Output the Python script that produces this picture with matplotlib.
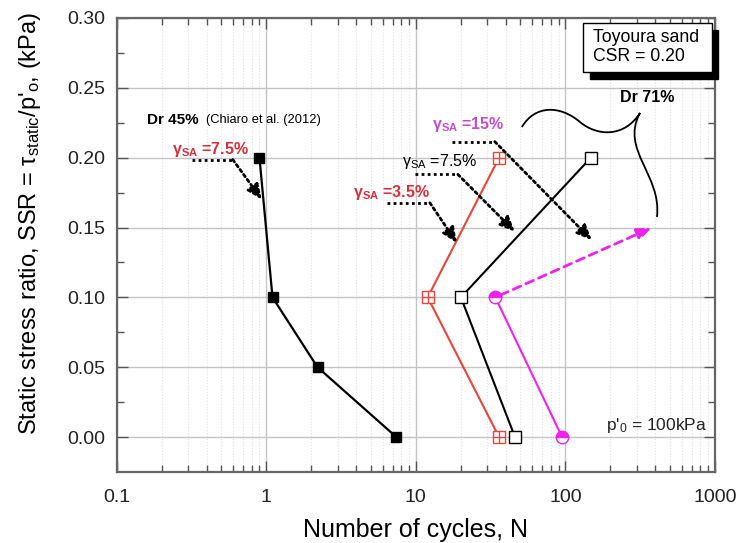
import matplotlib
matplotlib.use("Agg")
import matplotlib.pyplot as plt
from matplotlib.path import Path
from matplotlib.patches import PathPatch, Rectangle
from matplotlib.ticker import LogLocator, FixedLocator, NullFormatter, FixedFormatter

plt.rcParams['font.family'] = ['Liberation Sans', 'DejaVu Sans']
plt.rcParams['mathtext.fontset'] = 'custom'
plt.rcParams['mathtext.rm'] = 'Liberation Sans'
plt.rcParams['mathtext.it'] = 'Liberation Sans:italic'
plt.rcParams['mathtext.default'] = 'regular'

# ---- data ----
dr45_N = [0.9, 1.1, 2.2, 7.4]
dr45_ssr = [0.20, 0.10, 0.05, 0.00]

red35_N = [36, 12, 36]
red35_ssr = [0.20, 0.10, 0.00]

blk75_N = [148, 20, 46]
blk75_ssr = [0.20, 0.10, 0.00]

mag15_N = [34, 95]
mag15_ssr = [0.10, 0.00]

mag_arrow_end_N = 380
mag_arrow_end_ssr = 0.15

xticks = [0.1, 1, 10, 100, 1000]
xticklabels = ['0.1', '1', '10', '100', '1000']
yticks = [0.00, 0.05, 0.10, 0.15, 0.20, 0.25, 0.30]
yticklabels = ['0.00', '0.05', '0.10', '0.15', '0.20', '0.25', '0.30']

RED = '#e8453c'
MAG = '#ee22ee'
REDTXT = '#d6303a'
MAGTXT = '#c84ccc'

fig = plt.figure(figsize=(7.39, 5.43), dpi=100)
ax = fig.add_axes([0.158, 0.1308, 0.8095, 0.8361])
ax.set_xscale('log')
ax.set_xlim(0.1, 1000)
ax.set_ylim(-0.025, 0.30)

# grid
ax.set_axisbelow(True)
ax.grid(True, which='major', color='#c4c4c4', lw=1.0)
ax.grid(True, which='minor', axis='x', color='#e2e2e2', lw=0.8, ls=':')

ax.xaxis.set_major_locator(FixedLocator(xticks))
ax.xaxis.set_major_formatter(FixedFormatter(xticklabels))
ax.xaxis.set_minor_locator(LogLocator(base=10, subs=range(2, 10)))
ax.xaxis.set_minor_formatter(NullFormatter())
ax.yaxis.set_major_locator(FixedLocator(yticks))
ax.yaxis.set_major_formatter(FixedFormatter(yticklabels))
ax.yaxis.set_minor_locator(FixedLocator([0.025 + 0.05 * i for i in range(6)]))

ax.tick_params(which='both', direction='in', top=True, right=True, colors='#555555',
               labelcolor='#222222', labelsize=14)
ax.tick_params(which='major', length=8, width=1.0)
ax.tick_params(which='minor', length=5, width=1.0)
ax.tick_params(axis='x', which='major', pad=12)
ax.tick_params(axis='y', which='major', pad=8)
for s in ax.spines.values():
    s.set_color('#666666')
    s.set_linewidth(1.6)

# series
ax.plot(dr45_N, dr45_ssr, color='black', lw=1.6, marker='s', ms=7.5,
        mfc='black', mec='black', zorder=4)
ax.plot(red35_N, red35_ssr, color=RED, lw=1.5, marker='s', ms=9,
        mfc='white', mec=RED, mew=1.0, zorder=4)
ax.plot(red35_N, red35_ssr, ls='none', marker='+', ms=9, mec=RED, mew=1.0, zorder=5)
ax.plot(blk75_N, blk75_ssr, color='black', lw=1.5, marker='s', ms=9,
        mfc='white', mec='black', mew=1.0, zorder=4)
ax.plot(mag15_N, mag15_ssr, color=MAG, lw=1.5, marker='o', ms=9,
        fillstyle='top', mfc=MAG, mfcalt='white', mec=MAG, mew=1.0, zorder=4)

# dashed magenta arrow
ax.annotate('', xy=(mag_arrow_end_N, mag_arrow_end_ssr), xytext=(mag15_N[0], mag15_ssr[0]),
            arrowprops=dict(arrowstyle='-|>,head_length=0.9,head_width=0.35', color=MAG,
                            lw=2.0, ls=(0, (3, 2)), shrinkA=4, shrinkB=0), zorder=3)

# elbow dotted annotations
def elbow(x0, y0, x1, tipx, tipy):
    ax.plot([x0, x1], [y0, y0], color='black', lw=2.0, ls=(0, (1, 1.2)), zorder=6)
    ax.annotate('', xy=(tipx, tipy), xytext=(x1, y0),
                arrowprops=dict(arrowstyle='-|>,head_length=0.9,head_width=0.4',
                                color='black', lw=2.0, ls=(0, (1, 1.2)),
                                shrinkA=0, shrinkB=0), zorder=6)

elbow(0.318, 0.1986, 0.597, 0.933, 0.170)
elbow(6.40, 0.1677, 12.4, 18.8, 0.139)
elbow(9.84, 0.188, 19.1, 45.9, 0.147)
elbow(17.4, 0.2115, 33.7, 150, 0.141)

ax.text(0.233, 0.206, r'γ$_{SA}$ =7.5%', color=REDTXT, fontsize=11.5,
        fontweight='bold', ha='left', va='center')
ax.text(3.79, 0.175, r'γ$_{SA}$ =3.5%', color=REDTXT, fontsize=11.5,
        fontweight='bold', ha='left', va='center')
ax.text(8.05, 0.197, r'γ$_{SA}$ =7.5%', color='black', fontsize=11.5,
        ha='left', va='center')
ax.text(12.8, 0.224, r'γ$_{SA}$ =15%', color=MAGTXT, fontsize=11.5,
        fontweight='bold', ha='left', va='center')

ax.text(0.159, 0.227, 'Dr 45%', fontsize=11, fontweight='bold', ha='left', va='center')
ax.text(0.394, 0.227, '(Chiaro et al. (2012)', fontsize=9.3, ha='left', va='center')
ax.text(232, 0.243, 'Dr 71%', fontsize=11.5, fontweight='bold', ha='left', va='center')
ax.text(883, 0.0086, "p'$_0$ = 100kPa", fontsize=12.5, ha='right', va='center', color='#222222')

# brace-like curve (axes fraction from pixel positions)
def p2a(px, py):
    return ((px - 117) / 598.0, (472 - py) / 454.0)

verts = [p2a(522, 127), p2a(535, 105), p2a(560, 105), p2a(580, 122),
         p2a(598, 137), p2a(625, 137), p2a(640, 113),
         p2a(620, 150), p2a(662, 175), p2a(657, 217)]
codes = [Path.MOVETO] + [Path.CURVE4] * 9
ax.add_patch(PathPatch(Path(verts, codes), transform=ax.transAxes, fill=False,
                       edgecolor='black', lw=1.3, zorder=6))

# info box with shadow
x0, y0 = p2a(590, 79)
x1, y1 = p2a(718, 30)
ax.add_patch(Rectangle((x0, y0), x1 - x0, y1 - y0, transform=ax.transAxes,
                       facecolor='black', edgecolor='black', clip_on=False, zorder=7))
x0, y0 = p2a(583, 72)
x1, y1 = p2a(712, 23)
ax.add_patch(Rectangle((x0, y0), x1 - x0, y1 - y0, transform=ax.transAxes,
                       facecolor='white', edgecolor='black', lw=1.0, clip_on=False, zorder=8))
tx, ty = p2a(593, 47)
ax.text(tx, ty, 'Toyoura sand\nCSR = 0.20', transform=ax.transAxes, fontsize=12.7,
        ha='left', va='center', zorder=9, linespacing=1.1)

ax.set_xlabel('Number of cycles, N', fontsize=18, labelpad=9)
ax.set_ylabel("Static stress ratio, SSR = τ$_{static}$/p'$_o$, (kPa)", fontsize=17)
ax.yaxis.set_label_coords(-0.124, 0.548)

fig.savefig('out.png', dpi=100)
